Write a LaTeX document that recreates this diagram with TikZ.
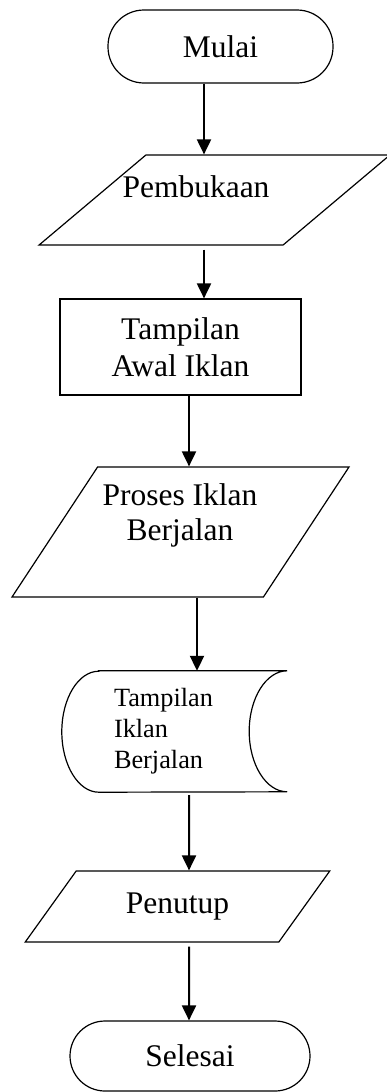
\documentclass[tikz,border=0pt]{standalone}
\usepackage{fontspec}
\setmainfont{Liberation Serif}
\usetikzlibrary{positioning,arrows.meta,shapes.geometric}

\begin{document}
\begin{tikzpicture}[
        x=1pt, y=1pt,
        font=\fontsize{31.5}{37}\selectfont,
        garis/.style={draw=black, line width=1.2pt},
        terminal/.style={garis, rectangle, inner sep=0pt},
        kotak/.style={garis, rectangle, inner sep=0pt, align=center},
        jajar/.style={garis, trapezium, trapezium stretches=true, inner sep=2pt},
        teks/.style={inner sep=0pt, align=center},
        panah/.style={-{Triangle[length=15pt,width=14pt]}, line width=2pt, draw=black}
    ]
        \useasboundingbox (0,0) rectangle (386,-1092);

        % Terminal awal
        \node[terminal, rounded corners=36pt, minimum width=225pt, minimum height=73pt] (mulai) at (220.5,-46.5) {Mulai};

        % Input / output (jajaran genjang)
        \node[jajar, minimum width=351pt, minimum height=90pt, trapezium left angle=52.1, trapezium right angle=127.9] (pembukaan) at (214.5,-200) {};
        \node[teks] (tpembukaan) at (196,-186.3) {Pembukaan};

        \node[kotak, minimum width=241pt, minimum height=96pt] (awal) at (180.5,-347) {Tampilan\\Awal Iklan};

        \node[jajar, minimum width=337pt, minimum height=130pt, trapezium left angle=62.7, trapezium right angle=117.3] (proses) at (180.5,-532) {};
        \node[teks, font=\fontsize{31.5}{35}\selectfont] (tproses) at (180,-515) {Proses Iklan\\Berjalan};

        % Stored data
        \node[inner ysep=0pt, inner xsep=52pt, text width=121pt, minimum height=121pt, align=left,
              font=\fontsize{26.3}{31}\selectfont] (simpan) at (174.5,-731.5) {Tampilan\\Iklan\\Berjalan};
        \draw[garis] ([xshift=37pt]simpan.north west) -- (simpan.north east)
            arc[start angle=90, end angle=270, x radius=38pt, y radius=60.5pt]
            -- ([xshift=37pt]simpan.south west)
            arc[start angle=270, end angle=90, x radius=37pt, y radius=60.5pt] -- cycle;

        \node[jajar, minimum width=305pt, minimum height=71pt, trapezium left angle=49.3, trapezium right angle=130.7] (penutup) at (177.5,-906.5) {Penutup};

        % Terminal akhir
        \node[terminal, rounded corners=35pt, minimum width=240pt, minimum height=70pt] (selesai) at (190,-1056) {Selesai};

        % Alur
        \draw[panah] ([xshift=-16.5pt]mulai.south) -- ([xshift=-10.5pt]pembukaan.north);
        \draw[panah, shorten <=4pt] ([xshift=-10.5pt]pembukaan.south) -- ([xshift=23.5pt]awal.north);
        \draw[panah] ([xshift=8.5pt]awal.south) -- ([xshift=8.5pt]proses.north);
        \draw[panah] ([xshift=16.5pt]proses.south) -- ([xshift=22.5pt]simpan.north);
        \draw[panah, shorten <=3pt] ([xshift=14.5pt]simpan.south) -- ([xshift=11.5pt]penutup.north);
        \draw[panah, shorten <=4pt] ([xshift=11.5pt]penutup.south) -- ([xshift=-1pt]selesai.north);
    \end{tikzpicture}
\end{document}
